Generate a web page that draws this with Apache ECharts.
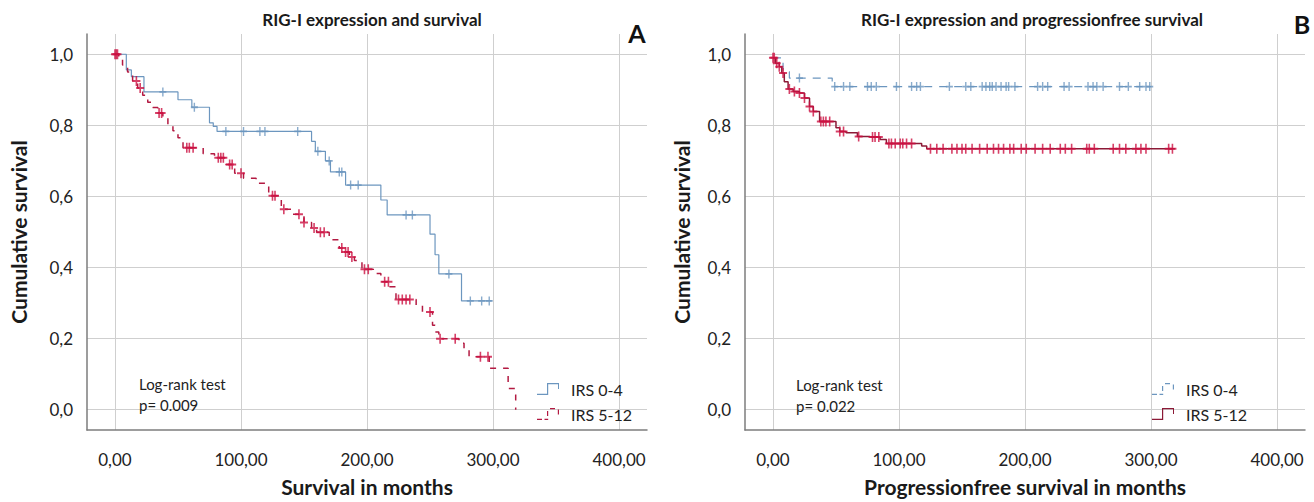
<!DOCTYPE html>
<html>
<head>
<meta charset="utf-8">
<title>RIG-I expression and survival</title>
<script src="https://cdn.jsdelivr.net/npm/echarts@6.0.0/dist/echarts.min.js"></script>
<style>
  html, body { margin: 0; padding: 0; background: #fff; }
  #chart { width: 1314px; height: 502px; }
</style>
</head>
<body>
<div id="chart"></div>
<script>
// tick values (both panels use the same scales)
const xTicks = [0, 100, 200, 300, 400];
const yTicks = [0, 0.2, 0.4, 0.6, 0.8, 1.0];

// panel A - overall survival, [months, cumulative survival] after each event
const aLowSteps = [[0, 1.0], [9, 0.956], [13, 0.937], [23, 0.894], [50, 0.872], [61, 0.851], [75, 0.807], [78, 0.797], [81, 0.783],
  [156, 0.755], [159, 0.727], [167, 0.700], [171, 0.669], [183, 0.632], [211, 0.590], [216, 0.548], [250, 0.494], [254, 0.436],
  [257, 0.382], [275, 0.306], [299, 0.306]];
const aLowCensored = [38, 63, 88, 102, 115, 119, 145, 161, 170, 178, 180, 187, 193, 231, 236, 265, 282, 291, 297];

const aHighSteps = [[0, 1.0], [3, 0.985], [6, 0.97], [10, 0.95], [14, 0.925], [18, 0.905], [22, 0.885], [26, 0.865], [30, 0.85],
  [34, 0.835], [38, 0.82], [42, 0.80], [46, 0.785], [50, 0.765], [54, 0.737], [70, 0.72], [79, 0.709], [88, 0.69], [95, 0.665],
  [102, 0.651], [112, 0.637], [122, 0.602], [132, 0.564], [141, 0.55], [150, 0.527], [156, 0.511], [160, 0.499], [170, 0.478],
  [178, 0.455], [182, 0.444], [186, 0.43], [190, 0.42], [196, 0.395], [205, 0.383], [211, 0.36], [218, 0.346], [223, 0.31],
  [239, 0.294], [244, 0.275], [252, 0.238], [254, 0.219], [257, 0.2], [273, 0.187], [277, 0.168], [281, 0.149], [297, 0.117],
  [312, 0.06], [318, 0.0]];
const aHighCensored = [0, 1, 2, 17, 20, 35, 37, 57, 59, 62, 82, 84, 86, 91, 93, 100, 125, 127, 134, 146, 150, 158, 163, 166,
  180, 183, 185, 188, 198, 201, 214, 217, 225, 228, 231, 234, 250, 258, 270, 290, 296];

// panel B - progression free survival
const bLowSteps = [[0, 0.99], [8, 0.951], [13, 0.933], [47, 0.909], [300, 0.909]];
const bLowCensored = [21, 49, 56, 61, 75, 78, 82, 98, 110, 114, 117, 140, 153, 157, 166, 169, 172, 174, 177, 181, 185, 187, 192,
  210, 214, 218, 231, 235, 250, 254, 257, 262, 275, 282, 291, 296, 299];

const bHighSteps = [[0, 0.99], [2, 0.975], [5, 0.965], [7, 0.947], [9, 0.923], [12, 0.902], [16, 0.895], [21, 0.891], [25, 0.877],
  [29, 0.853], [32, 0.839], [37, 0.811], [50, 0.793], [53, 0.783], [58, 0.779], [67, 0.769], [77, 0.767], [85, 0.76], [90, 0.749],
  [118, 0.742], [122, 0.734], [319, 0.734]];
const bHighCensored = [0, 1, 3, 5, 8, 13, 17, 21, 25, 29, 32, 38, 40, 42, 45, 53, 56, 68, 79, 81, 84, 92, 94, 97, 101, 103, 106, 110,
  125, 130, 135, 142, 146, 150, 153, 158, 164, 170, 175, 179, 183, 188, 191, 197, 201, 208, 214, 220, 228, 232, 237, 249, 251,
  255, 270, 275, 280, 288, 292, 296, 314, 317];

const BLUE = '#6c96bf';
const RED_LINE_A = '#b31a42';
const RED_LINE_B = '#8c1a37';
const RED_MARK = '#cc1041';
const FONT = 'Lato, "Open Sans", sans-serif';

// censored cases sit on the curve: take the survival value in force at that time
function onCurve(steps, times) {
  return times.map(t => {
    let s = steps[0][1];
    for (const p of steps) { if (p[0] <= t) s = p[1]; }
    return [t, s];
  });
}

const PLUS = 'path://M4,0h2v4h4v2h-4v4h-2v-4h-4v-2h4z';
const STEP_SOLID = 'path://M0,10.8L10,10.8L10,0L22,0L22,6L21,6L21,1.2L11.2,1.2L11.2,12L0,12Z';
const STEP_DASHED = 'path://M0,10.8h5v1.2h-5zM7.5,10.8h3.7v1.2h-3.7zM10,3h1.2v5h-1.2zM13,0h5v1.2h-5zM20.8,1.5h1.2v5h-1.2z';

function xAxis(gridIndex, name) {
  return {
    type: 'value', gridIndex: gridIndex, min: -22.2, max: 422.2,
    name: name, nameLocation: 'middle', nameGap: 46,
    nameTextStyle: { fontFamily: FONT, fontWeight: 'bold', fontSize: 21, color: '#1a1a1a' },
    axisLine: { onZero: false, lineStyle: { color: '#7d7d7d', width: 1.5 } },
    axisTick: { show: false, customValues: xTicks },
    axisLabel: {
      customValues: xTicks, margin: 21, fontFamily: FONT, fontSize: 17, color: '#222',
      formatter: v => v.toFixed(2).replace('.', ',')
    },
    splitLine: { show: true, lineStyle: { color: '#cfcfcf', width: 1 } }
  };
}

function yAxis(gridIndex, gap) {
  return {
    type: 'value', gridIndex: gridIndex, min: -0.057, max: 1.057,
    name: 'Cumulative survival', nameLocation: 'middle', nameGap: gap,
    nameTextStyle: { fontFamily: FONT, fontWeight: 'bold', fontSize: 21, color: '#1a1a1a' },
    axisLine: { show: true, onZero: false, lineStyle: { color: '#7d7d7d', width: 1.5 } },
    axisTick: { show: false, customValues: yTicks },
    axisLabel: {
      customValues: yTicks, margin: 14, fontFamily: FONT, fontSize: 17, color: '#222',
      formatter: v => v.toFixed(1).replace('.', ',')
    },
    splitLine: { show: true, lineStyle: { color: '#cfcfcf', width: 1 } }
  };
}

function curve(name, idx, steps, color, dash, width) {
  return {
    name: name, type: 'line', xAxisIndex: idx, yAxisIndex: idx, step: 'end',
    data: steps, symbol: 'none', color: color, z: 3,
    lineStyle: { color: color, width: width, type: dash },
    itemStyle: { color: color }
  };
}

function marks(name, idx, steps, times, color, size) {
  return {
    name: name, type: 'scatter', xAxisIndex: idx, yAxisIndex: idx,
    data: onCurve(steps, times), symbol: PLUS, symbolSize: size, z: 4,
    itemStyle: { color: color }
  };
}

function legend(left, names, icons) {
  return {
    orient: 'vertical', left: left, top: 376, itemWidth: 24, itemHeight: 12, itemGap: 9,
    data: names.map((n, i) => ({ name: n, icon: icons[i] })),
    formatter: n => n.slice(2),
    itemStyle: { borderWidth: 0 },
    textStyle: { fontFamily: FONT, fontSize: 16, color: '#222', padding: [0, 0, 0, 6] },
    selectedMode: false
  };
}

const chart = echarts.init(document.getElementById('chart'), null, { renderer: 'svg' });

const option = {
  animation: false,
  backgroundColor: '#fff',
  title: [
    { text: 'RIG-I expression and survival', left: 367, top: 6, textAlign: 'center',
      textStyle: { fontFamily: FONT, fontWeight: 'bold', fontSize: 17, color: '#1a1a1a' } },
    { text: 'RIG-I expression and progressionfree survival', left: 1027, top: 6, textAlign: 'center',
      textStyle: { fontFamily: FONT, fontWeight: 'bold', fontSize: 17, color: '#1a1a1a' } },
    { text: 'A', left: 632, top: 15, textAlign: 'center',
      textStyle: { fontFamily: FONT, fontWeight: 'bold', fontSize: 25, color: '#111' } },
    { text: 'B', left: 1297, top: 6, textAlign: 'center',
      textStyle: { fontFamily: FONT, fontWeight: 'bold', fontSize: 25, color: '#111' } },
    { text: 'Log-rank test\np= 0.009', left: 134, top: 368,
      textStyle: { fontFamily: FONT, fontWeight: 'normal', fontSize: 15, lineHeight: 21, color: '#222' } },
    { text: 'Log-rank test\np= 0.022', left: 791, top: 369,
      textStyle: { fontFamily: FONT, fontWeight: 'normal', fontSize: 15, lineHeight: 21, color: '#222' } }
  ],
  legend: [
    legend(532, ['A:IRS 0-4', 'A:IRS 5-12'], [STEP_SOLID, STEP_DASHED]),
    legend(1147, ['B:IRS 0-4', 'B:IRS 5-12'], [STEP_DASHED, STEP_SOLID])
  ],
  grid: [
    { left: 87, top: 34, width: 560, height: 398 },
    { left: 745, top: 34, width: 560, height: 398 }
  ],
  xAxis: [xAxis(0, 'Survival in months'), xAxis(1, 'Progressionfree survival in months')],
  yAxis: [yAxis(0, 58), yAxis(1, 53)],
  series: [
    curve('A:IRS 0-4', 0, aLowSteps, BLUE, 'solid', 1.2),
    curve('A:IRS 5-12', 0, aHighSteps, RED_LINE_A, [6, 7], 1.5),
    marks('A:cens 0-4', 0, aLowSteps, aLowCensored, BLUE, [7, 9]),
    marks('A:cens 5-12', 0, aHighSteps, aHighCensored, RED_MARK, [8, 10]),
    curve('B:IRS 0-4', 1, bLowSteps, BLUE, [8, 7], 1.2),
    curve('B:IRS 5-12', 1, bHighSteps, RED_LINE_B, 'solid', 1.5),
    marks('B:cens 0-4', 1, bLowSteps, bLowCensored, BLUE, [7, 9]),
    marks('B:cens 5-12', 1, bHighSteps, bHighCensored, RED_MARK, [8, 10])
  ]
};

chart.setOption(option);
</script>
</body>
</html>
